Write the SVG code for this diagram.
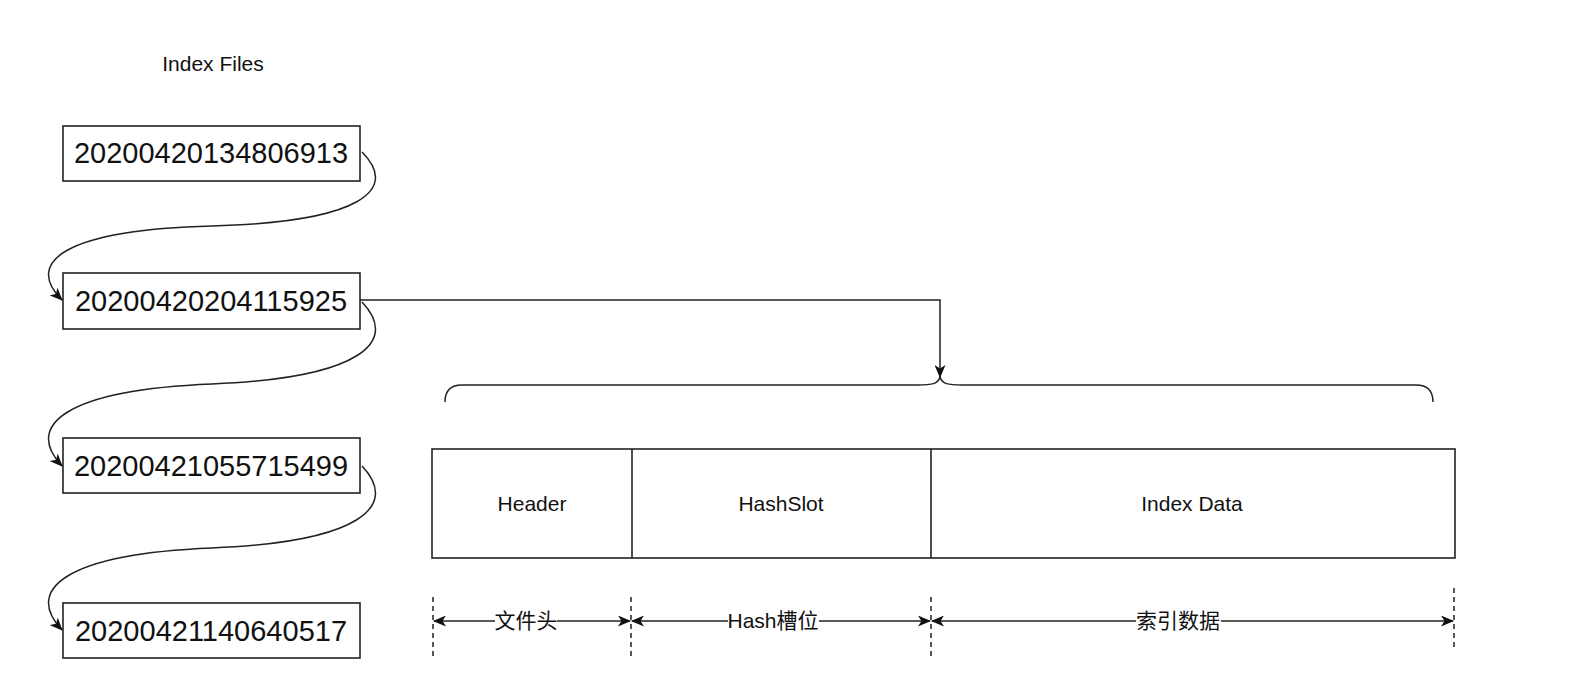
<svg xmlns="http://www.w3.org/2000/svg" width="1570" height="680" viewBox="0 0 1570 680">
<style>
.t{font-family:"Liberation Sans","Noto Sans CJK SC",sans-serif;fill:#111;text-anchor:middle}
.box{fill:#fff;stroke:#222;stroke-width:1.6}
.ln{fill:none;stroke:#222;stroke-width:1.5}
.dash{fill:none;stroke:#222;stroke-width:1.5;stroke-dasharray:5 4}
</style>
<defs>
<marker id="arr" viewBox="0 0 13 11" refX="12" refY="5.5" markerWidth="13" markerHeight="11" markerUnits="userSpaceOnUse" orient="auto-start-reverse">
<path d="M0,0 L13,5.5 L0,11 L3.5,5.5 z" fill="#111"/>
</marker>
</defs>
<rect width="1570" height="680" fill="#fff"/>
<text class="t" x="213" y="71" font-size="21">Index Files</text>

<g id="file1"><rect class="box" x="63" y="126" width="297" height="55"/><text class="t" x="211" y="163" font-size="29">20200420134806913</text></g>
<g id="file2"><rect class="box" x="63" y="273" width="297" height="56"/><text class="t" x="211" y="311" font-size="29">20200420204115925</text></g>
<g id="file3"><rect class="box" x="63" y="438" width="297" height="55"/><text class="t" x="211" y="476" font-size="29">20200421055715499</text></g>
<g id="file4"><rect class="box" x="63" y="603" width="297" height="55"/><text class="t" x="211" y="641" font-size="29">20200421140640517</text></g>

<g id="indexfile">
<rect class="box" x="432" y="449" width="1023" height="109"/>
<line class="box" x1="632" y1="449" x2="632" y2="558"/>
<line class="box" x1="931" y1="449" x2="931" y2="558"/>
<text class="t" x="532" y="511" font-size="21">Header</text>
<text class="t" x="781" y="511" font-size="21">HashSlot</text>
<text class="t" x="1192" y="511" font-size="21">Index Data</text>
</g>

<g id="brace">
<path class="ln" d="M445,402 Q445,385 462,385 H918 C932,385 938,384 940,377 C942,384 948,385 962,385 H1416 Q1433,385 1433,402"/>
</g>

<g id="dimensions">
<line class="dash" x1="433" y1="597" x2="433" y2="660"/>
<line class="dash" x1="631" y1="597" x2="631" y2="660"/>
<line class="dash" x1="931" y1="597" x2="931" y2="660"/>
<line class="dash" x1="1454" y1="588" x2="1454" y2="650"/>
<line class="ln" x1="434" y1="621" x2="630" y2="621" marker-start="url(#arr)" marker-end="url(#arr)"/>
<line class="ln" x1="632" y1="621" x2="930" y2="621" marker-start="url(#arr)" marker-end="url(#arr)"/>
<line class="ln" x1="932" y1="621" x2="1453" y2="621" marker-start="url(#arr)" marker-end="url(#arr)"/>
<rect x="495" y="608" width="62" height="26" fill="#fff"/>
<text class="t" x="526" y="628" font-size="21">文件头</text>
<rect x="728" y="608" width="91" height="26" fill="#fff"/>
<text class="t" x="773" y="628" font-size="21">Hash槽位</text>
<rect x="1136" y="608" width="85" height="26" fill="#fff"/>
<text class="t" x="1178" y="628" font-size="21">索引数据</text>
</g>

<g id="connectors">
<path class="ln" d="M362,152 C400,190 360,222 212,226 C64,230 24,262 62,300" marker-end="url(#arr)"/>
<path class="ln" d="M362,302 C400,342 360,378 212,384 C64,390 24,426 62,466" marker-end="url(#arr)"/>
<path class="ln" d="M362,466 C400,506 360,542 212,548 C64,554 24,590 62,630" marker-end="url(#arr)"/>
<path class="ln" d="M360,300 H940 V377" marker-end="url(#arr)"/>
</g>
</svg>
